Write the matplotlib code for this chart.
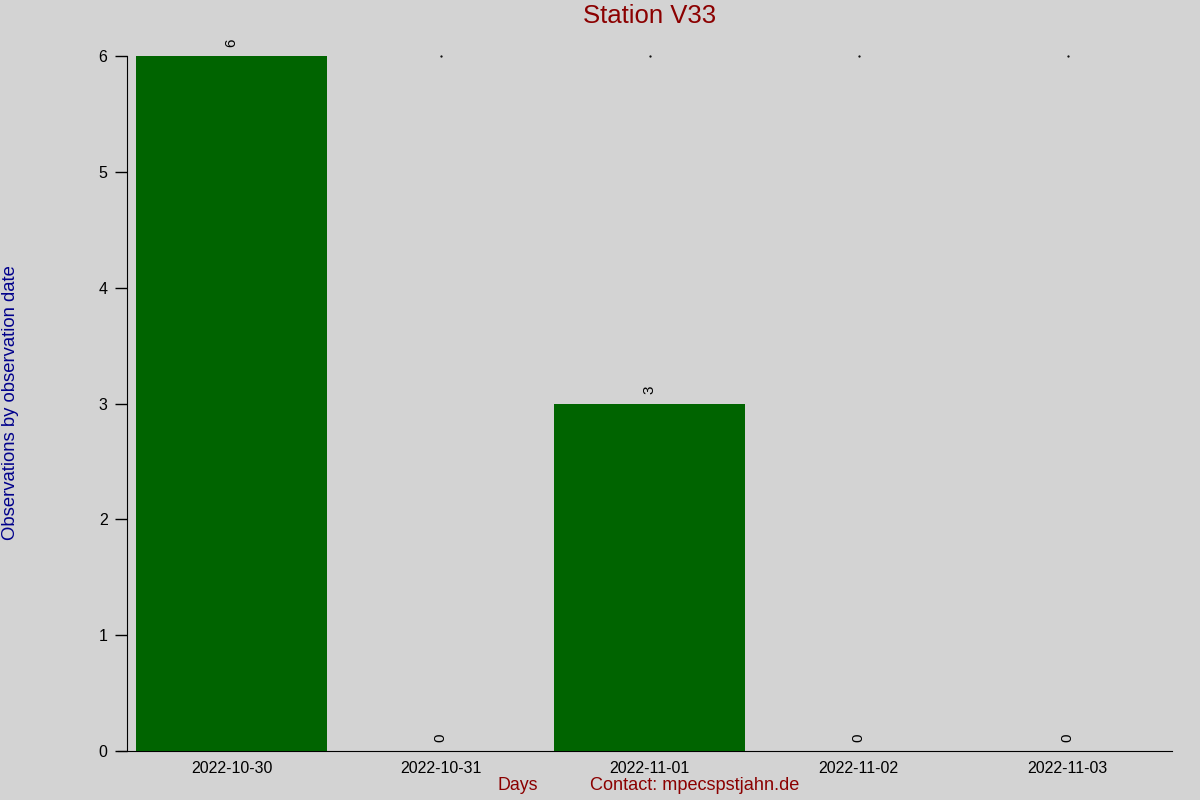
import matplotlib
matplotlib.use("Agg")
import matplotlib.pyplot as plt
import numpy as np

plt.rcParams['font.family'] = ['Liberation Sans', 'DejaVu Sans']

days = ["2022-10-30", "2022-10-31", "2022-11-01", "2022-11-02", "2022-11-03"]
counts = [6, 0, 3, 0, 0]
station = "V33"

bg = "#d3d3d3"
fig = plt.figure(figsize=(12, 8), dpi=100, facecolor=bg)
ax = fig.add_axes([127 / 1200, 49 / 800, 1045 / 1200, 695 / 800])
ax.set_facecolor(bg)

x = np.arange(len(days))
ax.bar(x, counts, width=0.91, color="#006400", zorder=3)
ymax = max(counts)

# little dots at the top of each column (hidden where a bar reaches the top)
dots = [xi for xi, c in zip(x, counts) if c < ymax]
ax.plot(dots, [ymax] * len(dots), linestyle="none", marker="o", ms=0.6,
        color="k", clip_on=False, zorder=1)

for xi, c in zip(x, counts):
    ax.text(xi, c + 0.08, str(c), rotation=90, ha="center", va="bottom",
            fontsize=11, color="k", zorder=4)

ax.set_xlim(-0.5, len(days) - 0.5)
ax.set_ylim(0, ymax)
ax.set_xticks(x)
ax.set_xticklabels(days, fontsize=11.5)
ax.set_yticks(np.arange(0, ymax + 1, 1))
ax.tick_params(axis="y", length=9, width=1, labelsize=11.5, pad=5)
ax.tick_params(axis="x", length=0, pad=7)

for side in ["top", "right"]:
    ax.spines[side].set_visible(False)
ax.spines["bottom"].set_bounds(-0.5 - 9 / 209, len(days) - 0.5)

ax.set_title(f"Station {station}", color="#8b0000", fontsize=18.5, pad=24)
fig.text(11 / 1200, 1 - 403 / 800, "Observations by observation date",
         rotation=90, ha="center", va="center", color="#00008b", fontsize=13.3)
fig.text(518 / 1200, 1 - 786 / 800, "Days", ha="center", va="center",
         color="#8b0000", fontsize=12.8)
fig.text(590 / 1200, 1 - 786 / 800, "Contact: mpecspstjahn.de", ha="left",
         va="center", color="#8b0000", fontsize=13.1)

fig.savefig("out.png", dpi=100, facecolor=bg)
